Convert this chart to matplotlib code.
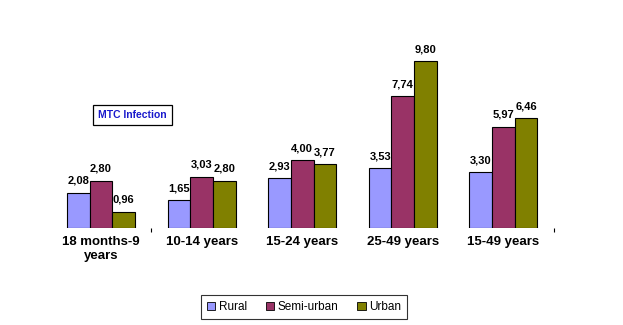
import matplotlib.pyplot as plt
import numpy as np

plt.rcParams['font.family'] = ['Liberation Sans', 'DejaVu Sans']

categories = ['18 months-9\nyears', '10-14 years', '15-24 years', '25-49 years', '15-49 years']
series = ['Rural', 'Semi-urban', 'Urban']
rural = [2.08, 1.65, 2.93, 3.53, 3.30]
semi_urban = [2.80, 3.03, 4.00, 7.74, 5.97]
urban = [0.96, 2.80, 3.77, 9.80, 6.46]
colors = ['#9999ff', '#993366', '#808000']

fig = plt.figure(figsize=(6.23, 3.25), dpi=100)
ax = fig.add_axes([0.0814, 0.298, 0.8074, 0.5235])

x = np.arange(len(categories))
w = 0.2256
for j, (vals, name) in enumerate(zip([rural, semi_urban, urban], series)):
    pos = x + (j - 1) * w
    ax.bar(pos, vals, w, color=colors[j], edgecolor='black', linewidth=0.8, label=name)
    for px, v in zip(pos, vals):
        ax.annotate(('%.2f' % v).replace('.', ','), (px, v), xytext=(0, 5),
                    textcoords='offset points', ha='center', va='bottom',
                    fontsize=8, fontweight='bold')

ax.set_xlim(-0.5, 4.5)
ax.set_ylim(0, 10)
ax.set_yticks([])
ax.set_xticks(x)
ax.set_xticklabels(categories, fontsize=9.5, fontweight='bold')
ax.tick_params(axis='x', which='major', length=0, pad=6)
ax.set_xticks([0.5, 4.5], minor=True)
ax.tick_params(axis='x', which='minor', length=3, width=0.8, direction='out', pad=2)
for s in ax.spines.values():
    s.set_visible(False)

fig.text(0.213, 0.646, 'MTC Infection', color='#1a1acc', fontsize=7.5, fontweight='bold',
         ha='center', va='center',
         bbox=dict(boxstyle='square,pad=0.5', facecolor='white', edgecolor='black', linewidth=0.9))

leg = fig.legend(loc='center', bbox_to_anchor=(0.488, 0.056), ncol=3, fontsize=8.5,
                 frameon=True, fancybox=False, edgecolor='black', handlelength=0.7,
                 handleheight=0.7, handletextpad=0.3, columnspacing=1.6,
                 borderpad=0.5)
leg.get_frame().set_linewidth(0.8)
for h in leg.legend_handles:
    h.set_edgecolor('black')
    h.set_linewidth(0.6)

fig.savefig('out.png', dpi=100)
